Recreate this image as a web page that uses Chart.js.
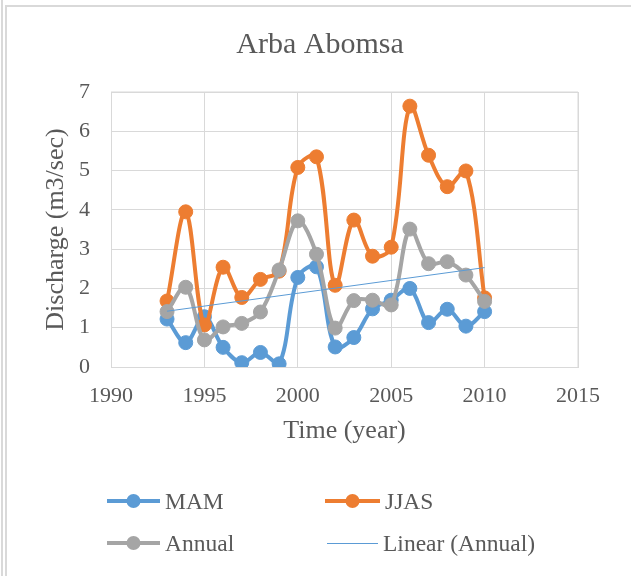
<!DOCTYPE html>
<html>
<head>
<meta charset="utf-8">
<script src="https://cdn.jsdelivr.net/npm/chart.js@4"></script>
<style>
  body { margin: 0; background: #fff; }
  #wrap { position: relative; width: 631px; height: 576px; overflow: hidden; }
  #chart { position: absolute; left: 0; top: 0; }
  .frame { position: absolute; background: #d9d9d9; }
  #legend { position: absolute; left: 0; top: 0; width: 631px; height: 576px; pointer-events: none;
            font-family: "Liberation Serif", "Times New Roman", serif; font-size: 23.5px; color: #595959; }
  .item { position: absolute; height: 30px; line-height: 30px; white-space: nowrap; }
  .item svg { position: absolute; left: 0; top: 0; }
  .item span { position: absolute; top: 0; }
</style>
</head>
<body>
<div id="wrap">
  <canvas id="chart" width="631" height="576"></canvas>
  <div class="frame" style="left:1px;top:0;width:2px;height:576px"></div>
  <div class="frame" style="left:5px;top:5px;width:2px;height:571px"></div>
  <div class="frame" style="left:5px;top:5px;width:626px;height:2px"></div>
  <div id="legend"></div>
</div>
<script>
// Data
var years = [1993, 1994, 1995, 1996, 1997, 1998, 1999, 2000, 2001, 2002,
             2003, 2004, 2005, 2006, 2007, 2008, 2009, 2010];
var mam = [1.22, 0.62, 1.28, 0.5, 0.11, 0.37, 0.08, 2.28, 2.55, 0.51,
           0.75, 1.48, 1.7, 2.0, 1.13, 1.47, 1.04, 1.41];
var jjas = [1.68, 3.95, 1.07, 2.54, 1.77, 2.23, 2.44, 5.08, 5.35, 2.08,
            3.74, 2.82, 3.05, 6.64, 5.39, 4.59, 4.99, 1.76];
var annual = [1.41, 2.03, 0.69, 1.02, 1.11, 1.4, 2.47, 3.72, 2.87, 0.99,
              1.69, 1.7, 1.58, 3.51, 2.63, 2.68, 2.34, 1.67];
var trendYears = [1993, 2010];
var trendValues = [1.42, 2.53];

var xTicks = [1990, 1995, 2000, 2005, 2010, 2015];
var yTicks = [0, 1, 2, 3, 4, 5, 6, 7];

var chartTitle = "Arba Abomsa";
var seriesNames = ["MAM", "JJAS", "Annual", "Linear (Annual)"];
var colors = ["#5B9BD5", "#ED7D31", "#A5A5A5", "#5B9BD5"];

var serif = "'Liberation Serif', 'Times New Roman', serif";
var textColor = "#595959";
var gridColor = "#d9d9d9";

function pts(xs, ys) {
  return xs.map(function (x, i) { return { x: x, y: ys[i] }; });
}

function lineSet(name, vals, color, order) {
  return {
    label: name,
    data: pts(years, vals),
    borderColor: color,
    backgroundColor: color,
    borderWidth: 4,
    tension: 0.35,
    pointRadius: 7,
    pointBorderWidth: 1,
    pointHoverRadius: 7,
    order: order
  };
}

var ctx = document.getElementById("chart").getContext("2d");
var chart = new Chart(ctx, {
  type: "line",
  data: {
    datasets: [
      lineSet(seriesNames[0], mam, colors[0], 3),
      lineSet(seriesNames[1], jjas, colors[1], 2),
      lineSet(seriesNames[2], annual, colors[2], 1),
      {
        label: seriesNames[3],
        data: pts(trendYears, trendValues),
        borderColor: colors[3],
        borderWidth: 1,
        pointRadius: 0,
        tension: 0,
        order: 0
      }
    ]
  },
  options: {
    responsive: false,
    animation: false,
    layout: { padding: { left: 5, right: 53, top: 92, bottom: 129 } },
    plugins: {
      legend: { display: false },
      tooltip: { enabled: false },
      title: { display: false }
    },
    scales: {
      x: {
        type: "linear",
        min: 1990,
        max: 2015,
        afterBuildTicks: function (axis) {
          axis.ticks = xTicks.map(function (v) { return { value: v }; });
        },
        afterFit: function (axis) { axis.height = 80; },
        grid: { color: gridColor, lineWidth: 1, drawTicks: false },
        border: { color: gridColor, width: 1 },
        ticks: {
          color: textColor,
          padding: 16,
          maxRotation: 0,
          font: { family: serif, size: 22 },
          callback: function (v) { return String(v); }
        },
        title: {
          display: true,
          text: "Time (year)",
          color: textColor,
          padding: 0,
          font: { family: serif, size: 26 }
        }
      },
      y: {
        min: 0,
        max: 7,
        afterBuildTicks: function (axis) {
          axis.ticks = yTicks.map(function (v) { return { value: v }; });
        },
        afterFit: function (axis) { axis.width = 106; },
        grid: { color: gridColor, lineWidth: 1, drawTicks: false },
        border: { color: gridColor, width: 1 },
        ticks: {
          color: textColor,
          padding: 21,
          font: { family: serif, size: 22 }
        },
        title: {
          display: true,
          text: "Discharge (m3/sec)",
          color: textColor,
          padding: { top: 36, bottom: 0 },
          font: { family: serif, size: 26 }
        }
      }
    }
  },
  plugins: [{
    id: "extras",
    afterDraw: function (c) {
      var a = c.chartArea, g = c.ctx;
      g.save();
      // close the plot frame on the right and top
      g.strokeStyle = gridColor;
      g.lineWidth = 1;
      g.beginPath();
      g.moveTo(a.right, a.top);
      g.lineTo(a.right, a.bottom);
      g.moveTo(a.left, a.top);
      g.lineTo(a.right, a.top);
      g.stroke();
      // chart title
      g.fillStyle = textColor;
      g.font = "30px " + serif;
      g.textAlign = "center";
      g.textBaseline = "middle";
      g.fillText(chartTitle, 320, 45);
      g.restore();
    }
  }]
});

// HTML legend, 2 x 2 grid
var legendPos = [
  { x: 107, y: 501, w: 53 },
  { x: 325, y: 501, w: 55 },
  { x: 107, y: 543, w: 53 },
  { x: 327, y: 543, w: 51 }
];
var legend = document.getElementById("legend");
chart.data.datasets.forEach(function (ds, i) {
  var p = legendPos[i];
  var item = document.createElement("div");
  item.className = "item";
  item.style.left = p.x + "px";
  item.style.top = (p.y - 15) + "px";
  var svg = '<svg width="' + p.w + '" height="30">';
  if (ds.pointRadius > 0) {
    svg += '<line x1="0" y1="15" x2="' + p.w + '" y2="15" stroke="' + ds.borderColor + '" stroke-width="4" />';
    svg += '<circle cx="' + (p.w / 2) + '" cy="15" r="7" fill="' + ds.borderColor + '" />';
  } else {
    svg += '<line x1="0" y1="15.5" x2="' + p.w + '" y2="15.5" stroke="' + ds.borderColor + '" stroke-width="1" />';
  }
  svg += "</svg>";
  item.innerHTML = svg + '<span style="left:' + (p.w + 5) + 'px">' + ds.label + "</span>";
  legend.appendChild(item);
});
</script>
</body>
</html>
